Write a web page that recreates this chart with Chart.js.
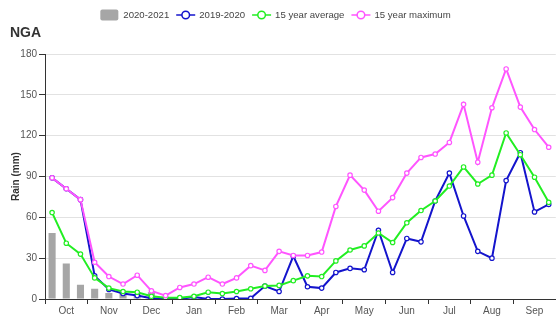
<!DOCTYPE html>
<html>
<head>
<meta charset="utf-8">
<script src="https://cdn.jsdelivr.net/npm/chart.js@4.4.1/dist/chart.umd.min.js"></script>
<style>
  html, body { margin: 0; padding: 0; background: #fff; width: 560px; height: 320px; overflow: hidden; }
  canvas { display: block; }
</style>
</head>
<body>
<canvas id="rain" width="561" height="320"></canvas>
<script>
// Month tick labels; each month holds three dekads
const months = ['Oct', 'Nov', 'Dec', 'Jan', 'Feb', 'Mar', 'Apr', 'May', 'Jun', 'Jul', 'Aug', 'Sep'];
const dekads = months.flatMap(m => [m + ' 1', m + ' 2', m + ' 3']);

// Dekadal rainfall (mm)
const rain2020_2021 = [48.5, 26, 10.5, 7.5, 4.5, 5, 3.5, 5];
const rain2019_2020 = [89, 81, 73, 17, 7, 4, 2.5, 0.5, 0, 0, 1.5, 0,
                       0, 0.3, 0.5, 9.5, 5.5, 31.5, 9, 8, 19.5, 22.5, 21.5, 50.5,
                       19.5, 44.5, 42, 72, 92.5, 61, 35, 30, 87, 107.5, 64, 69.5];
const avg15 = [63.5, 41, 33, 15.5, 8, 5.5, 5, 2, 1, 1, 2, 5,
               4, 5.5, 7.5, 9.5, 10, 13.5, 17, 16.5, 28, 36, 39, 48.5,
               41.5, 56, 65, 72, 83, 97, 84.5, 91, 122, 106, 89.5, 71];
const max15 = [89, 81, 73, 27, 16.5, 11, 17.5, 6, 2.5, 8.5, 11, 16,
               11, 15.5, 24.5, 21, 35, 32, 32, 34.5, 68, 91, 80, 64.5,
               74.5, 92.5, 104, 106.5, 115, 143, 100.5, 140.5, 169, 141, 124.5, 111.5];
const yTicks = [0, 30, 60, 90, 120, 150, 180];

const FONT = '"Liberation Sans", Arial, sans-serif';

// Title and legend row above the plot
const headerPlugin = {
  id: 'header',
  afterDraw(chart) {
    const ctx = chart.ctx;
    ctx.save();
    ctx.fillStyle = '#333';
    ctx.font = 'bold 14px ' + FONT;
    ctx.textBaseline = 'alphabetic';
    ctx.textAlign = 'left';
    ctx.fillText('NGA', 10, 37);

    ctx.font = '9.6px ' + FONT;
    ctx.textBaseline = 'middle';
    const iconW = 19, iconGap = 4, itemGap = 7, cy = 15;
    const items = chart.data.datasets.map(ds => ({
      label: ds.label,
      color: ds.type === 'bar' ? ds.backgroundColor : ds.borderColor,
      bar: ds.type === 'bar'
    }));
    let total = 0;
    items.forEach((it, i) => {
      it.w = ctx.measureText(it.label).width;
      total += iconW + iconGap + it.w + (i < items.length - 1 ? itemGap : 0);
    });
    let x = 275.5 - total / 2;
    items.forEach(it => {
      if (it.bar) {
        ctx.fillStyle = it.color;
        ctx.beginPath();
        ctx.roundRect(x, cy - 5.5, 18, 11, 2);
        ctx.fill();
      } else {
        ctx.strokeStyle = it.color;
        ctx.lineWidth = 1.5;
        ctx.beginPath();
        ctx.moveTo(x, cy);
        ctx.lineTo(x + iconW, cy);
        ctx.stroke();
        ctx.beginPath();
        ctx.arc(x + iconW / 2, cy, 3.8, 0, Math.PI * 2);
        ctx.fillStyle = '#fff';
        ctx.fill();
        ctx.stroke();
      }
      ctx.fillStyle = '#444';
      ctx.fillText(it.label, x + iconW + iconGap, cy + 0.5);
      x += iconW + iconGap + it.w + itemGap;
    });
    ctx.restore();
  }
};

function lineSet(label, data, color, order) {
  return {
    type: 'line', label, data, order,
    borderColor: color, borderWidth: 2,
    pointRadius: 2.2, pointBorderWidth: 1.2,
    pointBackgroundColor: '#fff', pointBorderColor: color,
    tension: 0, fill: false
  };
}

new Chart(document.getElementById('rain'), {
  type: 'bar',
  data: {
    labels: dekads,
    datasets: [
      { type: 'bar', label: '2020-2021', data: rain2020_2021, order: 4,
        backgroundColor: '#a6a6a6', barPercentage: 0.5, categoryPercentage: 1 },
      lineSet('2019-2020', rain2019_2020, '#1414cc', 3),
      lineSet('15 year average', avg15, '#22ee22', 2),
      lineSet('15 year maximum', max15, '#ff55ff', 1)
    ]
  },
  options: {
    responsive: false,
    animation: false,
    layout: { padding: { top: 54, left: 0, right: 0, bottom: 0 } },
    plugins: { legend: { display: false }, tooltip: { enabled: false } },
    scales: {
      x: {
        offset: true,
        grid: {
          offset: true, drawOnChartArea: false, tickLength: 5,
          color: c => (c.index % 3 === 0 ? '#333' : 'rgba(0,0,0,0)')
        },
        border: { display: true, color: '#333', width: 1 },
        ticks: {
          autoSkip: false, maxRotation: 0, padding: 1, color: '#555',
          font: { size: 10, family: FONT },
          callback: (v, i) => (i % 3 === 1 ? months[(i - 1) / 3] : '')
        },
        afterFit: s => { s.height = 21; }
      },
      y: {
        min: 0, max: 180,
        afterBuildTicks: s => { s.ticks = yTicks.map(v => ({ value: v })); },
        ticks: { padding: 2, color: '#555', font: { size: 10, family: FONT } },
        grid: {
          color: c => (c.tick && c.tick.value === 0 ? 'rgba(0,0,0,0)' : '#e2e2e2'),
          tickColor: '#333', tickLength: 6
        },
        border: { display: true, color: '#333', width: 1 },
        title: {
          display: true, text: 'Rain (mm)', color: '#333',
          font: { size: 10, weight: 'bold', family: FONT },
          padding: { top: 10, bottom: 0 }
        },
        afterFit: s => { s.width = 45; }
      }
    }
  },
  plugins: [headerPlugin]
});
</script>
</body>
</html>
